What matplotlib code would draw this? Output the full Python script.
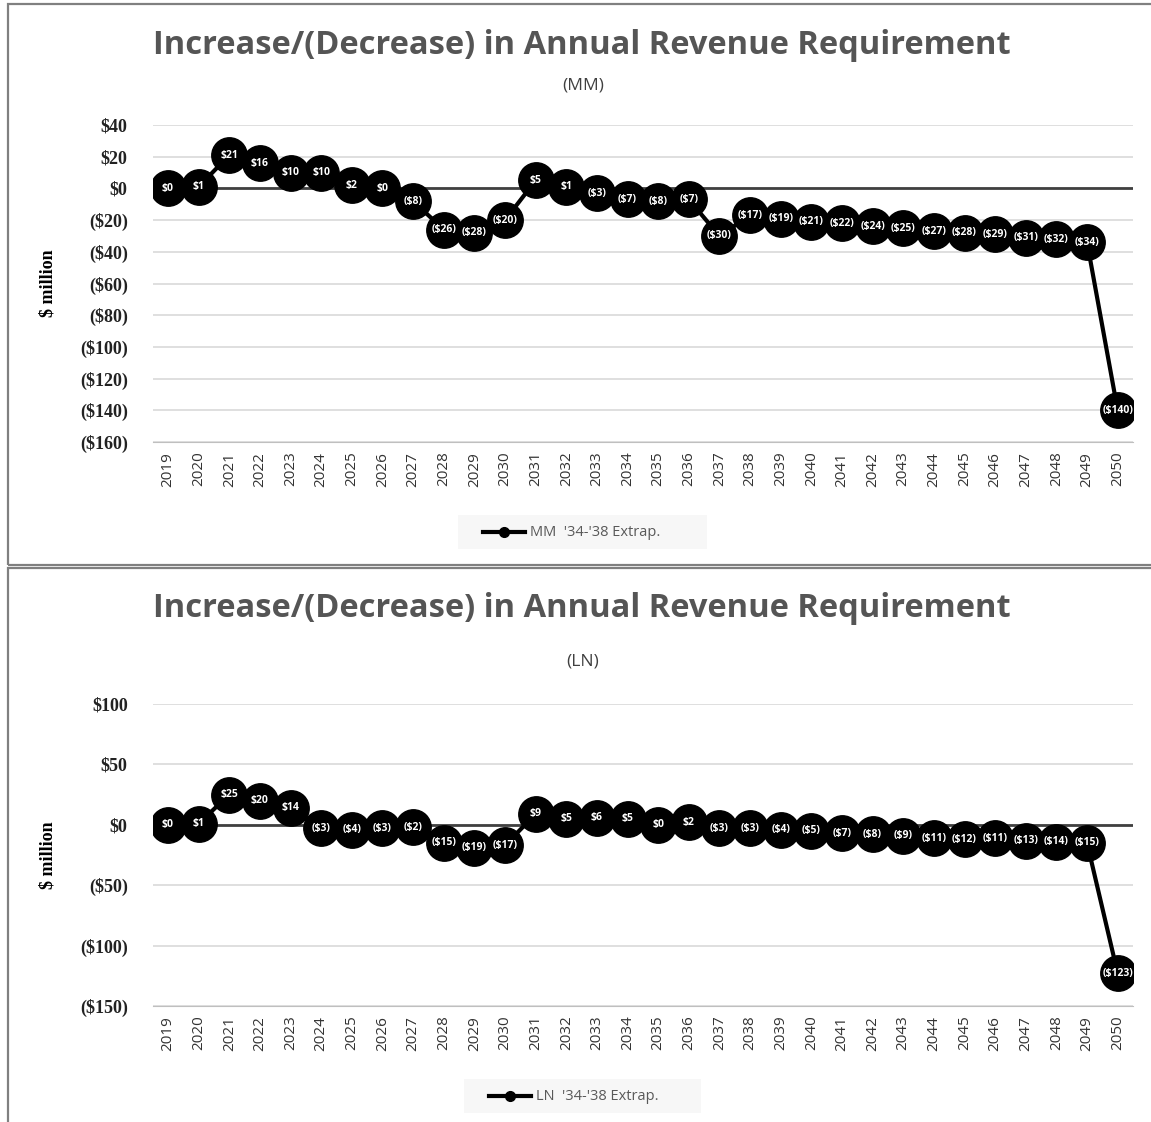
import matplotlib
matplotlib.use("Agg")
import matplotlib.pyplot as plt
from matplotlib.patches import Rectangle
from matplotlib.lines import Line2D

years = [str(y) for y in range(2019, 2051)]
mm_values = [0, 1, 21, 16, 10, 10, 2, 0, -8, -26, -28, -20, 5, 1, -3, -7, -8, -7, -30,
             -17, -19, -21, -22, -24, -25, -27, -28, -29, -31, -32, -34, -140]
ln_values = [0, 1, 25, 20, 14, -3, -4, -3, -2, -15, -19, -17, 9, 5, 6, 5, 0, 2,
             -3, -3, -4, -5, -7, -8, -9, -11, -12, -11, -13, -14, -15, -123]
mm_yticks = [40, 20, 0, -20, -40, -60, -80, -100, -120, -140, -160]
ln_yticks = [100, 50, 0, -50, -100, -150]
title = "Increase/(Decrease) in Annual Revenue Requirement"
mm_sub = "(MM)"
ln_sub = "(LN)"
mm_legend = "MM  '34-'38 Extrap."
ln_legend = "LN  '34-'38 Extrap."

W, H = 1151, 1122
fig = plt.figure(figsize=(W / 100, H / 100), dpi=100)
fig.patch.set_facecolor("white")

def fx(px):
    return px / W

def fy(py):
    return 1 - py / H

def money(v):
    return f"${v}" if v >= 0 else f"(${-v})"

# panel frames
for top, bot in [(4, 565), (568, 1124)]:
    fig.add_artist(Rectangle((fx(8), fy(bot)), fx(1160) - fx(8), fy(top) - fy(bot),
                             transform=fig.transFigure, fill=False,
                             edgecolor="#808080", lw=1.6))

def panel(vals, yticks, ylim, ax_top, ax_bot, title_y, sub, sub_y, leg_text, leg_y, leg_x0, leg_x1):
    ax = fig.add_axes([fx(152.7), fy(ax_bot), fx(1133) - fx(152.7), fy(ax_top) - fy(ax_bot)])
    x = list(range(len(vals)))
    ax.set_xlim(-0.5, len(vals) - 0.5)
    ax.set_ylim(*ylim)
    ax.set_yticks(yticks)
    ax.set_yticklabels([money(v) for v in yticks], family="Liberation Serif",
                       fontsize=13, fontweight="bold", color="#222222")
    ax.set_xticks(x)
    ax.set_xticklabels(years, rotation=90, family="Open Sans", fontsize=11, color="#333333")
    ax.tick_params(axis="both", length=0, pad=7)
    ax.tick_params(axis="y", pad=18)
    for s in ["top", "right", "left"]:
        ax.spines[s].set_visible(False)
    ax.spines["bottom"].set_color("#bfbfbf")
    ax.grid(axis="y", color="#d9d9d9", lw=1.2)
    ax.set_axisbelow(True)
    ax.axhline(0, color="#404040", lw=2, zorder=1)
    ax.plot(x, vals, color="black", lw=3, marker="o", markersize=25.5,
            markerfacecolor="black", markeredgecolor="black", zorder=3)
    for xi, v in zip(x, vals):
        ax.text(xi, v, money(v), ha="center", va="center", color="white",
                fontsize=7.5, fontweight="bold", family="Open Sans", zorder=4)
    ax.set_ylabel("$ million", family="Liberation Serif", fontsize=13,
                  fontweight="bold")
    fig.text(fx(582), fy(title_y), title, ha="center", va="center",
             family="Open Sans", fontsize=23.5, fontweight="bold", color="#555555")
    fig.text(fx(583), fy(sub_y), sub, ha="center", va="center",
             family="Open Sans", fontsize=12.5, color="#404040")
    # legend
    fig.add_artist(Rectangle((fx(leg_x0), fy(leg_y + 17)), fx(leg_x1) - fx(leg_x0), 34 / H,
                             transform=fig.transFigure, facecolor="#f7f7f7",
                             edgecolor="none"))
    lx = leg_x0 + 25
    fig.add_artist(Line2D([fx(lx), fx(lx + 42)], [fy(leg_y), fy(leg_y)],
                          transform=fig.transFigure, color="black", lw=3))
    fig.add_artist(Line2D([fx(lx + 21)], [fy(leg_y)], transform=fig.transFigure,
                          color="black", marker="o", markersize=7))
    fig.text(fx(lx + 47), fy(leg_y), leg_text, ha="left", va="center",
             family="Open Sans", fontsize=10.5, color="#595959")
    return ax

ax1 = panel(mm_values, mm_yticks, (-160, 40), 125, 442, 45, mm_sub, 86,
            mm_legend, 532, 458, 707)
ax2 = panel(ln_values, ln_yticks, (-150, 100), 704, 1006, 609, ln_sub, 661,
            ln_legend, 1096, 464, 701)

for ax, yc in ((ax1, 283), (ax2, 855)):
    ax.yaxis.set_label_coords(fx(56), fy(yc), transform=fig.transFigure)

fig.savefig("out.png", dpi=100, facecolor="white")
